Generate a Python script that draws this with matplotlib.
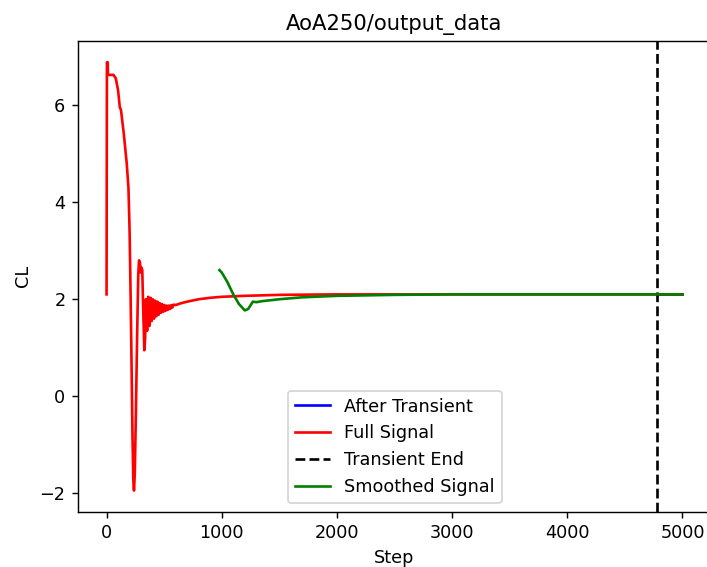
import matplotlib
matplotlib.use('Agg')
import matplotlib.pyplot as plt

# full CL signal
full_step = [0, 3, 10, 12, 60, 80, 100, 115, 125, 150, 175, 190, 200, 208, 215, 225, 232, 238,
             245, 255, 265, 275, 282, 290, 296, 303, 310, 318, 328, 335, 342, 352, 362,
             372, 382, 392, 402, 412, 422, 432, 442, 452, 462, 472, 482, 492, 502, 512,
             522, 532, 542, 552, 562, 572, 582, 600, 650, 700, 800, 900, 1000, 1200, 1500,
             2000, 5000]
full_cl = [2.1, 6.88, 6.88, 6.62, 6.62, 6.55, 6.3, 5.95, 5.9, 5.4, 4.8, 4.3, 3.4, 2.2, 1.0, -0.8,
           -1.7, -1.94, -1.6, -0.3, 1.2, 2.5, 2.8, 2.75, 2.55, 2.65, 2.6, 1.8, 0.95, 1.2,
           2.0, 1.35, 2.05, 1.45, 2.03, 1.55, 2.0, 1.6, 1.97, 1.65, 1.95, 1.68, 1.92, 1.72, 1.9,
           1.74, 1.88, 1.76, 1.87, 1.78, 1.87, 1.8, 1.88, 1.83, 1.89, 1.88, 1.92, 1.95, 2.0,
           2.03, 2.05, 2.07, 2.09, 2.1, 2.1]

smooth_step = [980, 1000, 1050, 1100, 1150, 1200, 1230, 1270, 1300, 1350, 1500, 1700, 2000,
               2500, 3000, 5000]
smooth_cl = [2.6, 2.55, 2.35, 2.1, 1.9, 1.77, 1.8, 1.95, 1.94, 1.96, 2.0, 2.04, 2.07, 2.09,
             2.1, 2.1]

after_step = [4780, 5000]
after_cl = [2.1, 2.1]

transient_end = 4780

dpi = 127
fig = plt.figure(figsize=(707 / dpi, 567 / dpi), dpi=dpi)
ax = fig.add_axes([0.110, 0.097, 0.896, 0.831])
ax.plot(after_step, after_cl, color='b', label='After Transient')
ax.plot(full_step, full_cl, color='r', label='Full Signal')
ax.axvline(transient_end, color='k', linestyle='--', label='Transient End')
ax.plot(smooth_step, smooth_cl, color='g', label='Smoothed Signal')
ax.set_title('AoA250/output_data')
ax.set_xlabel('Step')
ax.set_ylabel('CL')
ax.legend(loc='lower center')
fig.savefig('out.png', dpi=dpi)
